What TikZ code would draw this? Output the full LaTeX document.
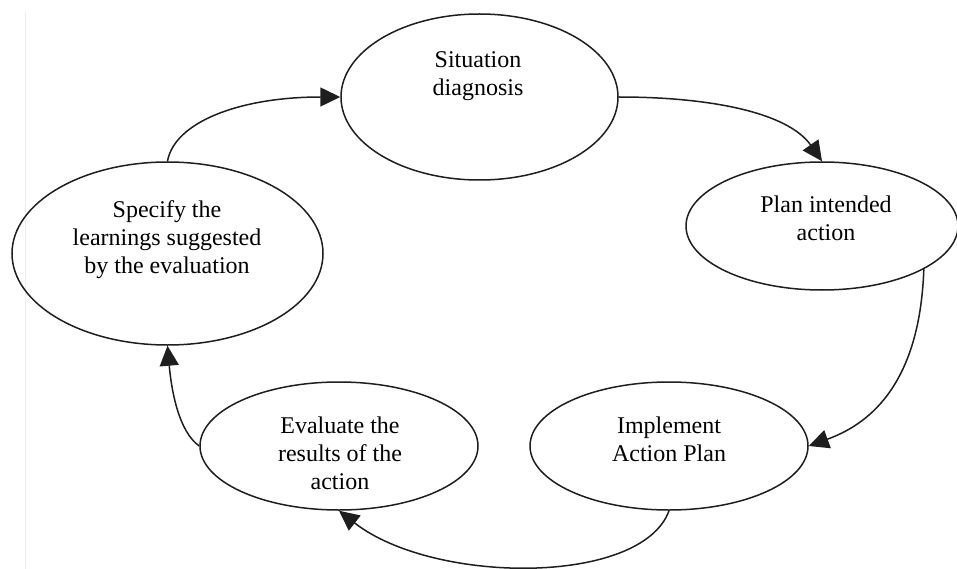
\documentclass[tikz,border=0pt]{standalone}
\usepackage{fontspec}
\setmainfont{Liberation Serif}
\usetikzlibrary{shapes.geometric,arrows.meta}
\definecolor{ink}{HTML}{1E1E1E}
\begin{document}
\begin{tikzpicture}[x=1pt,y=-1pt,
  stage/.style={ellipse, draw=ink, line width=1.5pt, inner sep=0pt},
  caption/.style={align=center, font=\fontsize{24}{28}\selectfont, text=black, inner sep=0pt},
  flow/.style={draw=ink, line width=1.5pt, -{Triangle[length=20pt,width=19pt]}}]
\path[use as bounding box] (0,0) rectangle (957,569);

% faint margin rule
\draw[black!7, line width=1pt] (25,12) -- (25,569);

% the five stages of the cycle
\node[stage, minimum width=277pt, minimum height=166pt] (sd) at (479.5,97) {};
\node[stage, minimum width=272pt, minimum height=128pt] (pa) at (822,226) {};
\node[stage, minimum width=278pt, minimum height=128pt] (ia) at (669,446) {};
\node[stage, minimum width=278pt, minimum height=128pt] (er) at (339,446) {};
\node[stage, minimum width=311pt, minimum height=183pt] (sl) at (167.5,253.5) {};

% stage texts
\node[caption] (sd-t) at (478,76) {Situation\\diagnosis};
\node[caption] (pa-t) at (826,218) {Plan intended\\action};
\node[caption] (sl-t) at (167,240) {Specify the\\learnings suggested\\by the evaluation};
\node[caption] (er-t) at (340,453) {Evaluate the\\results of the\\action};
\node[caption] (ia-t) at (669,439) {Implement\\Action Plan};

% connectors
\draw[flow] (sl.north) .. controls +(80:40pt) and +(180:100pt) .. (sd.west);
\draw[flow] (sd.east) .. controls +(0:90pt) and +(125:60pt) .. (pa.north);
\draw[flow] (pa.-23) .. controls +(-92:120pt) and +(20:60pt) .. (ia.east);
\draw[flow] (ia.south) .. controls +(-110:80pt) and +(-38:120pt) .. (er.south);
\draw[flow] (er.west) .. controls +(145:25pt) and +(-85:45pt) .. (sl.south);
\end{tikzpicture}
\end{document}
